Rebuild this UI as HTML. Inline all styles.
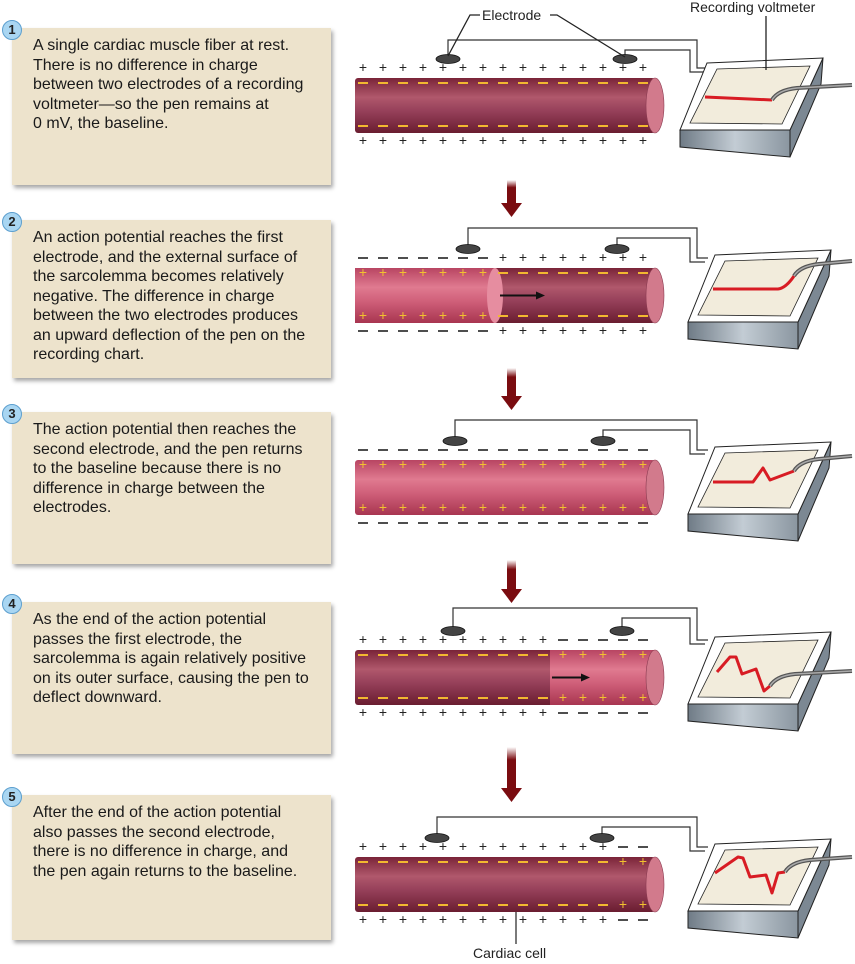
<!DOCTYPE html>
<html><head><meta charset="utf-8">
<style>
html,body{margin:0;padding:0;background:#fff;}
body{width:855px;height:964px;position:relative;overflow:hidden;font-family:"Liberation Sans",Arial,sans-serif;}
.box{position:absolute;left:12px;width:319px;background:#ede3cc;box-shadow:2px 3px 4px rgba(0,0,0,0.35);}
.box p{margin:0;position:absolute;left:21px;top:8px;white-space:nowrap;font-size:16px;line-height:19.5px;color:#1a1a1a;}
.num{position:absolute;left:2px;width:20px;height:20px;border-radius:50%;background:#a9d6f2;border:1px solid #5c9fcf;box-sizing:border-box;font-weight:bold;font-size:13px;text-align:center;line-height:18px;color:#222;}
svg{position:absolute;left:0;top:0;}
</style></head><body>
<div class="box" style="top:28px;height:157px;"><p>A single cardiac muscle fiber at rest.<br>There is no difference in charge<br>between two electrodes of a recording<br>voltmeter—so the pen remains at<br>0 mV, the baseline.</p></div>
<div class="box" style="top:220px;height:158px;"><p>An action potential reaches the first<br>electrode, and the external surface of<br>the sarcolemma becomes relatively<br>negative. The difference in charge<br>between the two electrodes produces<br>an upward deflection of the pen on the<br>recording chart.</p></div>
<div class="box" style="top:412px;height:152px;"><p>The action potential then reaches the<br>second electrode, and the pen returns<br>to the baseline because there is no<br>difference in charge between the<br>electrodes.</p></div>
<div class="box" style="top:602px;height:152px;"><p>As the end of the action potential<br>passes the first electrode, the<br>sarcolemma is again relatively positive<br>on its outer surface, causing the pen to<br>deflect downward.</p></div>
<div class="box" style="top:795px;height:145px;"><p>After the end of the action potential<br>also passes the second electrode,<br>there is no difference in charge, and<br>the pen again returns to the baseline.</p></div>
<div class="num" style="top:20px;">1</div>
<div class="num" style="top:212px;">2</div>
<div class="num" style="top:404px;">3</div>
<div class="num" style="top:594px;">4</div>
<div class="num" style="top:787px;">5</div>
<svg id="s" width="855" height="964" xmlns="http://www.w3.org/2000/svg">
<defs>
<linearGradient id="dark" x1="0" y1="0" x2="0" y2="1">
<stop offset="0" stop-color="#7a2438"/><stop offset="0.35" stop-color="#b0586c"/><stop offset="0.6" stop-color="#96405a"/><stop offset="1" stop-color="#6a1d30"/></linearGradient>
<linearGradient id="light" x1="0" y1="0" x2="0" y2="1">
<stop offset="0" stop-color="#b84562"/><stop offset="0.35" stop-color="#e07a90"/><stop offset="0.6" stop-color="#d0607a"/><stop offset="1" stop-color="#a83550"/></linearGradient>
<linearGradient id="arr" x1="0" y1="0" x2="0" y2="1"><stop offset="0" stop-color="#fff"/><stop offset="0.3" stop-color="#7a0c10"/><stop offset="1" stop-color="#7a0c10"/></linearGradient>
<linearGradient id="front" x1="0" y1="0" x2="1" y2="0"><stop offset="0" stop-color="#6f7b86"/><stop offset="0.5" stop-color="#c3ccd4"/><stop offset="1" stop-color="#8a96a0"/></linearGradient>
</defs>
<g id="g"></g>
<text x="482" y="20" font-size="14" fill="#222">Electrode</text>
<text x="690" y="12" font-size="14" fill="#222">Recording voltmeter</text>
<path d="M480,15 L470,15 L448,56 M550,15 L557,15 L625,57 M766,16 L766,70" stroke="#222" stroke-width="1.3" fill="none"/>
<text x="473" y="958" font-size="14" fill="#222">Cardiac cell</text>
<line x1="516" y1="912" x2="516" y2="944" stroke="#222" stroke-width="1.2"/>
</svg>
<script>
var g=document.getElementById('g'),h='';
var P=[
 {dy:0,e1:448,e2:625,w1:40,w2:50,types:'rrrrrrrrrrrrrrr',split:null,arrow:null,trace:'M705,97 L772,100'},
 {dy:190,e1:468,e2:617,w1:38,w2:48,types:'dddddddrrrrrrrr',split:495,arrow:[500,545],trace:'M705,97 L770,97 Q778,96 786,84'},
 {dy:382,e1:455,e2:603,w1:38,w2:48,types:'ddddddddddddddd',split:'all',arrow:null,trace:'M705,98 L745,98 L755,84 L762,96 L786,87'},
 {dy:572,e1:453,e2:622,w1:36,w2:46,types:'rrrrrrrrrrddddd',split:550,arrow:[552,590],trace:'M709,98 L722,83 L728,83 L734,100 L748,95 L756,117 L762,112'},
 {dy:779,e1:437,e2:602,w1:38,w2:48,types:'rrrrrrrrrrrrrdd',split:null,arrow:null,trace:'M707,92 L730,76 L735,77 L742,96 L758,94 L764,112 L770,92 L777,91'}
];
var xs=[];for(var i=0;i<15;i++)xs.push(363+i*20);
P.forEach(function(p,k){
 var d=p.dy, top=78+d, bot=133+d, mid=(top+bot)/2;
 var fill=p.split==='all'?'url(#light)':'url(#dark)';
 h+='<rect x="355" y="'+top+'" width="300" height="55" rx="3" fill="'+fill+'"/>';
 if(typeof p.split==='number'){
  if(k==1) h+='<rect x="355" y="'+top+'" width="'+(p.split-355)+'" height="55" fill="url(#light)"/><ellipse cx="'+p.split+'" cy="'+mid+'" rx="8" ry="27.5" fill="#e68da0"/>';
  else h+='<rect x="'+p.split+'" y="'+top+'" width="'+(655-p.split)+'" height="55" fill="url(#light)"/>';
 }
 h+='<ellipse cx="655" cy="'+mid+'" rx="9" ry="27.5" fill="#d27a8c" stroke="#8a3a50" stroke-width="0.6"/>';
 if(p.arrow) h+='<line x1="'+p.arrow[0]+'" y1="'+mid+'" x2="'+(p.arrow[1]-6)+'" y2="'+mid+'" stroke="#111" stroke-width="2"/><polygon points="'+p.arrow[1]+','+mid+' '+(p.arrow[1]-9)+','+(mid-4)+' '+(p.arrow[1]-9)+','+(mid+4)+'" fill="#111"/>';
 xs.forEach(function(x,i){
  var t=p.types[i];
  [top-6,bot+12].forEach(function(y){
   if(t=='r') h+='<text x="'+x+'" y="'+y+'" font-size="14" fill="#222" text-anchor="middle">+</text>';
   else h+='<line x1="'+(x-5)+'" y1="'+(y-4)+'" x2="'+(x+5)+'" y2="'+(y-4)+'" stroke="#222" stroke-width="1.6"/>';
  });
  [top+9,bot-3].forEach(function(y){
   if(t!='r') h+='<text x="'+x+'" y="'+y+'" font-size="14" fill="#f2c230" text-anchor="middle">+</text>';
   else h+='<line x1="'+(x-5)+'" y1="'+(y-4)+'" x2="'+(x+5)+'" y2="'+(y-4)+'" stroke="#f2b830" stroke-width="2"/>';
  });
 });
 var yb=d;
 h+='<path d="M'+p.e1+','+(58+yb)+' L'+p.e1+','+(p.w1+yb)+' L697,'+(p.w1+yb)+' L697,'+(68+yb)+' L708,'+(68+yb)+'" stroke="#333" stroke-width="1.2" fill="none"/>';
 h+='<path d="M'+p.e2+','+(58+yb)+' L'+p.e2+','+(p.w2+yb)+' L690,'+(p.w2+yb)+' L690,'+(72+yb)+' L705,'+(72+yb)+'" stroke="#333" stroke-width="1.2" fill="none"/>';
 h+='<ellipse cx="'+p.e1+'" cy="'+(59+yb)+'" rx="12" ry="4.5" fill="#444" stroke="#111" stroke-width="0.8"/>';
 h+='<ellipse cx="'+p.e2+'" cy="'+(59+yb)+'" rx="12" ry="4.5" fill="#444" stroke="#111" stroke-width="0.8"/>';
 var o=k==0?0:8, vy=yb+(k==0?0:2);
 function pt(x,y){return (x+o)+','+(y+vy);}
 h+='<polygon points="'+pt(680,130)+' '+pt(790,130)+' '+pt(790,157)+' '+pt(680,147)+'" fill="url(#front)" stroke="#222" stroke-width="1"/>';
 h+='<polygon points="'+pt(790,130)+' '+pt(823,58)+' '+pt(821,84)+' '+pt(790,157)+'" fill="#7c8893" stroke="#222" stroke-width="1"/>';
 h+='<polygon points="'+pt(707,63)+' '+pt(823,58)+' '+pt(790,130)+' '+pt(680,130)+'" fill="#fff" stroke="#222" stroke-width="1"/>';
 h+='<polygon points="'+pt(717,69)+' '+pt(810,66)+' '+pt(782,124)+' '+pt(690,123)+'" fill="#f2ecdc" stroke="#222" stroke-width="0.8"/>';
 h+='<g transform="translate('+o+','+vy+')"><path d="'+p.trace+'" stroke="#d81c24" stroke-width="3" fill="none" stroke-linejoin="round"/></g>';
 var pe=p.trace.split(' ').pop().replace(/[A-Z]/,'').split(',');
 var px=+pe[0]+o, py=+pe[1]+vy;
 h+='<path d="M'+px+','+py+' Q'+(px+6)+','+(py-10)+' '+(px+25)+','+(py-12)+' L852,'+(py-15)+'" stroke="#555" stroke-width="4" fill="none"/>';
 h+='<path d="M'+px+','+py+' Q'+(px+6)+','+(py-10)+' '+(px+25)+','+(py-12)+' L852,'+(py-15)+'" stroke="#aaa" stroke-width="1.5" fill="none"/>';
});
[[180,217],[368,410],[560,603],[747,802]].forEach(function(a){
 h+='<rect x="507" y="'+a[0]+'" width="9" height="'+(a[1]-a[0]-12)+'" fill="url(#arr)"/>';
 h+='<polygon points="501,'+(a[1]-14)+' 522,'+(a[1]-14)+' 511.5,'+a[1]+'" fill="#7a0c10"/>';
});
g.innerHTML=h;
</script>
</body></html>
